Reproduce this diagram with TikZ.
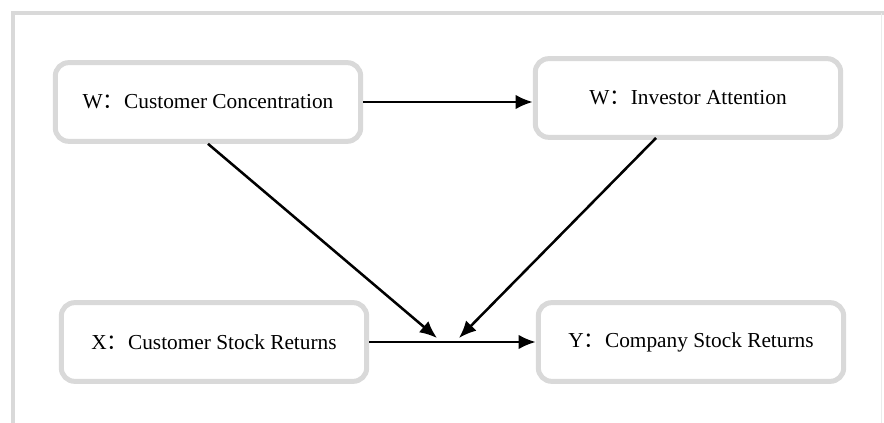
\documentclass[tikz,border=0pt]{standalone}
\usepackage{fontspec}
\setmainfont{Liberation Serif}
\newfontfamily\cjk{Noto Sans CJK SC}
\usetikzlibrary{arrows.meta}
\tikzset{>={Latex[length=13pt,width=11pt]}}
\colorlet{boxgray}{black!15}
\tikzset{box/.style = {shape=rectangle,draw=boxgray,line width=3.75pt,rounded corners=10pt,
        minimum width=229pt,minimum height=59pt,font=\fontsize{16}{19}\selectfont}}
\tikzset{link/.style = {->,line width=1.9pt}}

\begin{document}
\begin{tikzpicture}[x=0.75pt,y=-0.75pt]
                \useasboundingbox (0,0) rectangle (884,423);
                % frame
                \draw[boxgray,line width=3pt] (13,423) -- (13,13) -- (884,13);
                \draw[black!8,line width=0.75pt] (881,13) -- (881,423);

                \node[box] (cc) at (208,102) {W{\cjk ：}Customer Concentration};
                \node[box] (ia) at (688,98) {W{\cjk ：}Investor Attention};
                \node[box] (csr) at (214,342) {X{\cjk ：}Customer Stock Returns};
                \node[box] (ysr) at (691,342) {Y{\cjk ：}Company Stock Returns};
                \coordinate (m1) at (437,338);
                \coordinate (m2) at (459,338);
                \coordinate (ia-foot) at (656,138);

                \draw[link] (cc.east) -- (cc.east -| ia.west);
                \draw[link] (csr.east) -- (csr.east -| ysr.west);
                \draw[link] (cc.south) -- (m1);
                \draw[link] (ia-foot) -- (m2);
            \end{tikzpicture}
\end{document}
